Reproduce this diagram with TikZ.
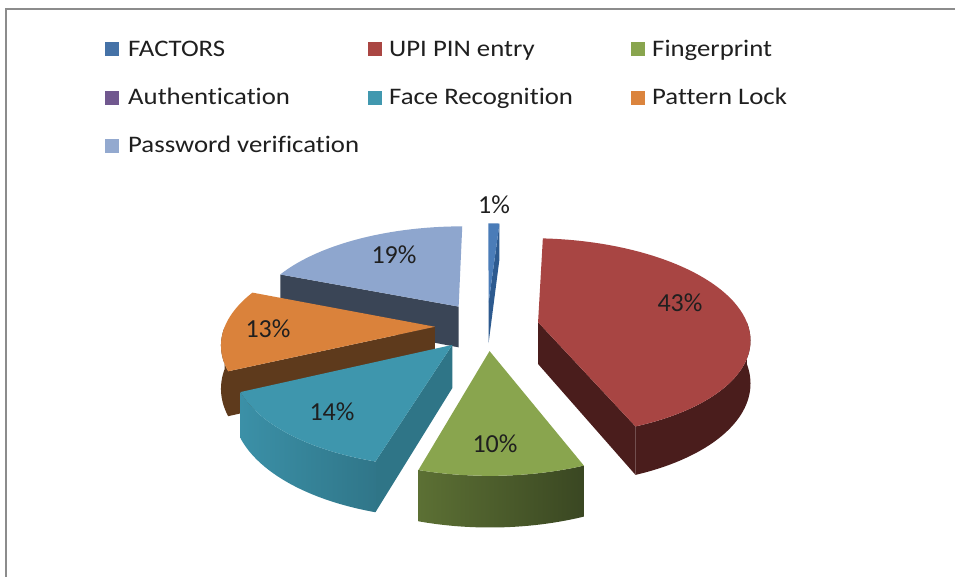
\documentclass[tikz,border=0pt]{standalone}
\usepackage{fontspec}
\setmainfont{Carlito}[Ligatures=NoCommon]
\newfontfamily\legendfont{Carlito}[FakeStretch=1.13,Ligatures=NoCommon]

% slice colours: top face, radial face, outer wall
\definecolor{factTop}{HTML}{4A7CB8}
\definecolor{factSide}{HTML}{2D5A8F}
\definecolor{upiTop}{HTML}{A84543}
\definecolor{upiSide}{HTML}{4A1D1C}
\definecolor{fingTop}{HTML}{89A54E}
\definecolor{fingWallL}{HTML}{5C7034}
\definecolor{fingWallR}{HTML}{3A4722}
\definecolor{faceTop}{HTML}{3E96AD}
\definecolor{faceSide}{HTML}{2F7587}
\definecolor{faceWallL}{HTML}{3B90A7}
\definecolor{faceWallR}{HTML}{307689}
\definecolor{patTop}{HTML}{DA823B}
\definecolor{patSide}{HTML}{5E3A1C}
\definecolor{pwdTop}{HTML}{8EA6CE}
\definecolor{pwdSide}{HTML}{3A4556}
% legend keys
\definecolor{keyFact}{HTML}{4572A7}
\definecolor{keyUpi}{HTML}{AA4643}
\definecolor{keyFing}{HTML}{89A54E}
\definecolor{keyAuth}{HTML}{71588F}
\definecolor{keyFace}{HTML}{4198AF}
\definecolor{keyPat}{HTML}{DB843D}
\definecolor{keyPwd}{HTML}{93A9CF}
\definecolor{frameGray}{HTML}{8C8C8C}

% #1 = direction the slice is pulled out, #2/#3 = start/end angle, #4 = style
\newcommand{\topface}[4]{%
  \path[#4] ({px(#1,0,0)},{py(#1,0,0,0)})
    -- plot[domain=#2:#3,samples=60,variable=\t] ({px(#1,\t,210)},{py(#1,\t,210,0)})
    -- cycle;}
% #1 = pull-out direction, #2 = angle of the cut face, #3 = style
\newcommand{\radface}[3]{%
  \path[#3] ({px(#1,0,0)},{py(#1,0,0,0)})
    -- ({px(#1,#2,210)},{py(#1,#2,210,0)})
    -- ({px(#1,#2,210)},{py(#1,#2,210,-42)})
    -- ({px(#1,0,0)},{py(#1,0,0,-42)}) -- cycle;}
% #1 = pull-out direction, #2/#3 = angular range of the outer wall, #4 = style
\newcommand{\wallface}[4]{%
  \path[#4] plot[domain=#2:#3,samples=60,variable=\t] ({px(#1,\t,210)},{py(#1,\t,210,0)})
    -- plot[domain=#3:#2,samples=60,variable=\t] ({px(#1,\t,210)},{py(#1,\t,210,-42)})
    -- cycle;}

\begin{document}
\begin{tikzpicture}[x=1pt,y=-1pt,
  declare function={
    pw(\bs,\ph,\rr)=1+0.15*(52*sin(\bs)+\rr*sin(\ph))/210;
    px(\bs,\ph,\rr)=487+(52*cos(\bs)+\rr*cos(\ph))/pw(\bs,\ph,\rr);
    py(\bs,\ph,\rr,\zz)=326-(0.465*(52*sin(\bs)+\rr*sin(\ph))+\zz)/pw(\bs,\ph,\rr);
  },
  pct/.style={font=\fontsize{26}{30}\selectfont, text=black!88, anchor=base, inner sep=0pt},
  legtext/.style={font=\legendfont\fontsize{23.7}{28}\selectfont, text=black!88, anchor=base west, inner sep=0pt},
  legkey/.style={minimum size=14pt, inner sep=0pt, draw=none},
]
\useasboundingbox (0,0) rectangle (955,577);
\fill[white] (0,0) rectangle (955,577);

% chart frame
\draw[frameGray, line width=2pt] (6,577) -- (6,9) -- (955,9);

% FACTORS
\radface{88.2}{86.4}{fill=factSide}
\topface{88.2}{86.4}{90}{fill=factTop}
% Password verification
\radface{124.2}{158.4}{fill=pwdSide}
\topface{124.2}{90}{158.4}{fill=pwdTop}
% UPI PIN entry
\radface{9}{291.6}{fill=upiSide}
\wallface{9}{291.6}{360}{fill=upiSide}
\topface{9}{291.6}{446.4}{fill=upiTop}
% Pattern Lock
\radface{181.8}{205.2}{fill=patSide}
\wallface{181.8}{180}{205.2}{fill=patSide}
\topface{181.8}{158.4}{205.2}{fill=patTop}
% Face Recognition
\radface{229.5}{253.8}{fill=faceSide}
\wallface{229.5}{205.2}{253.8}{shade, left color=faceWallL, right color=faceWallR}
\topface{229.5}{205.2}{253.8}{fill=faceTop}
% Fingerprint
\wallface{272.7}{253.8}{291.6}{shade, left color=fingWallL, right color=fingWallR}
\topface{272.7}{253.8}{291.6}{fill=fingTop}

% data labels
\node[pct] (lFact) at (494,214) {1\%};
\node[pct] (lUpi)  at (680,311) {43\%};
\node[pct] (lFing) at (495,452) {10\%};
\node[pct] (lFace) at (332,420) {14\%};
\node[pct] (lPat)  at (268,337) {13\%};
\node[pct] (lPwd)  at (394,263) {19\%};

% legend
\node[legkey, fill=keyFact] (kFact) at (112,49.5) {};
\node[legtext] (tFact) at (128,56.5) {FACTORS};
\node[legkey, fill=keyUpi]  (kUpi)  at (375,49.5) {};
\node[legtext] (tUpi)  at (389,56.5) {UPI PIN entry};
\node[legkey, fill=keyFing] (kFing) at (638,49.5) {};
\node[legtext] (tFing) at (652,56.5) {Fingerprint};
\node[legkey, fill=keyAuth] (kAuth) at (112,97.8) {};
\node[legtext] (tAuth) at (128,104.8) {Authentication};
\node[legkey, fill=keyFace] (kFace) at (375,97.8) {};
\node[legtext] (tFace) at (389,104.8) {Face Recognition};
\node[legkey, fill=keyPat]  (kPat)  at (638,97.8) {};
\node[legtext] (tPat)  at (652,104.8) {Pattern Lock};
\node[legkey, fill=keyPwd]  (kPwd)  at (112,145.7) {};
\node[legtext] (tPwd)  at (128,152.7) {Password verification};
\end{tikzpicture}
\end{document}
